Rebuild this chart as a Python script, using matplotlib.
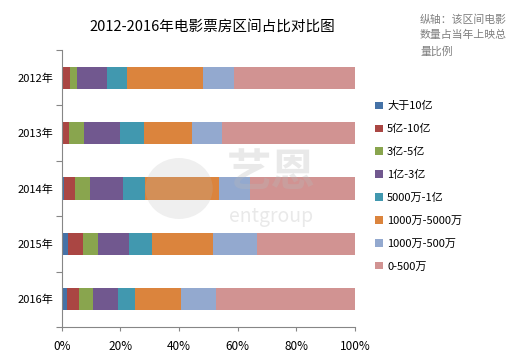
import numpy as np
import matplotlib
matplotlib.use("Agg")
import matplotlib.pyplot as plt
from matplotlib.patches import Ellipse

plt.rcParams['font.family'] = ['Noto Sans CJK SC', 'DejaVu Sans']

years = ["2012年", "2013年", "2014年", "2015年", "2016年"]
series = ["大于10亿", "5亿-10亿", "3亿-5亿", "1亿-3亿", "5000万-1亿",
          "1000万-5000万", "1000万-500万", "0-500万"]
colors = ["#4572A7", "#AA4643", "#89A54E", "#71588F", "#4198AF",
          "#DB843D", "#93A9CF", "#D19392"]

# percent share of each range, per year (rows = series, cols = years)
gt10 = [0.0, 0.0, 0.7, 2.0, 1.8]
y5_10 = [2.8, 2.5, 3.9, 5.2, 4.1]
y3_5 = [2.4, 5.1, 5.1, 5.1, 4.8]
y1_3 = [10.2, 12.3, 11.3, 10.6, 8.5]
w5000_1 = [6.8, 8.2, 7.5, 7.8, 5.8]
w1000_5000 = [25.9, 16.4, 25.2, 20.8, 15.7]
w500_1000 = [10.5, 10.0, 10.6, 15.0, 11.9]
w0_500 = [41.4, 45.5, 35.7, 33.5, 47.4]

values = np.array([gt10, y5_10, y3_5, y1_3, w5000_1, w1000_5000, w500_1000, w0_500])

fig = plt.figure(figsize=(5.11, 3.52), dpi=100)
ax = fig.add_axes([0.1207, 0.071, 0.574, 0.787])

ypos = np.arange(len(years))
left = np.zeros(len(years))
for vals, name, c in zip(values, series, colors):
    ax.barh(ypos, vals, left=left, height=0.4, color=c, label=name, zorder=2)
    left += vals

ax.set_xlim(0, 100)
ax.set_ylim(4.5, -0.5)
ax.set_xticks(np.arange(0, 101, 20))
ax.set_xticklabels([f"{v}%" for v in range(0, 101, 20)], fontsize=8.5)
ax.set_yticks(np.arange(-0.5, 5, 1))
ax.set_yticklabels([])
ax.set_yticks(ypos, minor=True)
ax.set_yticklabels(years, minor=True, fontsize=8)
ax.tick_params(axis='y', which='minor', length=0, pad=6)
ax.tick_params(axis='y', which='major', length=4, color="#868686")
ax.tick_params(axis='x', length=3, color="#868686", pad=6)

for s in ["top", "right"]:
    ax.spines[s].set_visible(False)
for s in ["left", "bottom"]:
    ax.spines[s].set_color("#868686")

# watermark (艺恩 entgroup)
wm = dict(color="#b8b8b8", alpha=0.3, zorder=3)
ax.add_patch(Ellipse((40, 2.0), 23, 1.1, lw=0, color="#b8b8b8", alpha=0.22, zorder=3))
ax.text(71.4, 1.72, "艺恩", fontsize=32, ha="center", va="center",
        fontweight="bold", **wm)
ax.text(71.4, 2.5, "entgroup", fontsize=14, ha="center", va="center", **wm)

fig.text(0.415, 0.925, "2012-2016年电影票房区间占比对比图", fontsize=10.5,
         ha="center", va="center", color="#000000")
fig.text(0.822, 0.96, "纵轴：该区间电影\n数量占当年上映总\n量比例", fontsize=7.8,
         ha="left", va="top", color="#7f7f7f", linespacing=1.7)

leg = fig.legend(loc="upper left", bbox_to_anchor=(0.725, 0.725), frameon=False,
                 fontsize=8, handlelength=0.7, handleheight=0.7,
                 handletextpad=0.4, labelspacing=1.15, borderaxespad=0)

fig.savefig("out.png", dpi=100)
